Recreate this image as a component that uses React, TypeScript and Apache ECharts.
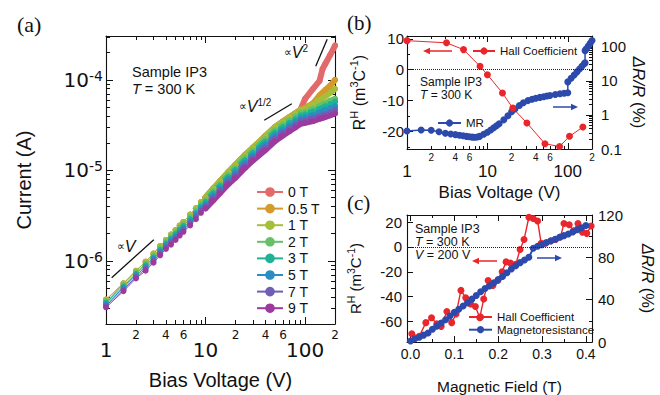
import React, { useEffect, useRef } from "react";
import * as echarts from "echarts";

// ================= Panel (a): current vs bias voltage =================
const biasVoltage = [1, 1.5, 2, 2.5, 3, 3.5, 4, 4.5, 5, 5.5, 6, 7, 8, 9, 10, 12, 14, 17, 20, 25, 30, 40, 50, 60, 70, 80, 90, 100, 120, 140, 150, 160, 180, 200];

const current0T = [3.72e-7, 5.62e-7, 7.76e-7, 9.77e-7, 1.2e-6, 1.45e-6, 1.7e-6, 1.95e-6, 2.19e-6, 2.45e-6, 2.69e-6, 3.24e-6, 3.8e-6, 4.47e-6, 5.01e-6, 6.31e-6, 7.59e-6, 9.55e-6, 1.15e-5, 1.48e-5, 1.78e-5, 2.4e-5, 3.02e-5, 3.47e-5, 3.89e-5, 4.27e-5, 4.68e-5, 6.17e-5, 7.94e-5, 9.77e-5, 1.32e-4, 1.51e-4, 1.91e-4, 2.4e-4];
const current05T = [3.72e-7, 5.62e-7, 7.76e-7, 9.77e-7, 1.2e-6, 1.45e-6, 1.7e-6, 1.95e-6, 2.19e-6, 2.45e-6, 2.69e-6, 3.24e-6, 3.8e-6, 4.47e-6, 5.01e-6, 6.31e-6, 7.59e-6, 9.55e-6, 1.15e-5, 1.48e-5, 1.78e-5, 2.4e-5, 3.02e-5, 3.47e-5, 3.89e-5, 4.27e-5, 4.68e-5, 4.9e-5, 5.5e-5, 6.76e-5, 7.24e-5, 7.76e-5, 8.71e-5, 1.0e-4];
const current1T = [3.72e-7, 5.62e-7, 7.76e-7, 9.77e-7, 1.2e-6, 1.45e-6, 1.7e-6, 1.95e-6, 2.19e-6, 2.45e-6, 2.69e-6, 3.24e-6, 3.8e-6, 4.47e-6, 5.01e-6, 6.31e-6, 7.59e-6, 9.55e-6, 1.15e-5, 1.48e-5, 1.78e-5, 2.4e-5, 3.02e-5, 3.47e-5, 3.89e-5, 4.27e-5, 4.68e-5, 4.79e-5, 5.37e-5, 6.03e-5, 6.31e-5, 6.61e-5, 7.24e-5, 7.94e-5];
const current2T = [3.56e-7, 5.38e-7, 7.43e-7, 9.29e-7, 1.14e-6, 1.38e-6, 1.62e-6, 1.84e-6, 2.07e-6, 2.32e-6, 2.54e-6, 3.05e-6, 3.58e-6, 4.21e-6, 4.72e-6, 5.9e-6, 7.1e-6, 8.93e-6, 1.07e-5, 1.38e-5, 1.66e-5, 2.22e-5, 2.79e-5, 3.21e-5, 3.6e-5, 3.95e-5, 4.33e-5, 4.45e-5, 4.79e-5, 5.13e-5, 5.37e-5, 5.5e-5, 5.89e-5, 6.17e-5];
const current3T = [3.44e-7, 5.2e-7, 7.18e-7, 8.91e-7, 1.09e-6, 1.32e-6, 1.55e-6, 1.76e-6, 1.98e-6, 2.21e-6, 2.43e-6, 2.9e-6, 3.4e-6, 4.0e-6, 4.48e-6, 5.6e-6, 6.73e-6, 8.47e-6, 1.01e-5, 1.3e-5, 1.56e-5, 2.08e-5, 2.62e-5, 3.01e-5, 3.37e-5, 3.7e-5, 4.06e-5, 4.17e-5, 4.5e-5, 4.79e-5, 4.95e-5, 5.13e-5, 5.43e-5, 5.75e-5];
const current5T = [3.31e-7, 5.01e-7, 6.91e-7, 8.51e-7, 1.05e-6, 1.26e-6, 1.48e-6, 1.68e-6, 1.88e-6, 2.1e-6, 2.31e-6, 2.74e-6, 3.22e-6, 3.79e-6, 4.24e-6, 5.28e-6, 6.35e-6, 7.98e-6, 9.48e-6, 1.22e-5, 1.47e-5, 1.94e-5, 2.44e-5, 2.8e-5, 3.14e-5, 3.45e-5, 3.78e-5, 3.88e-5, 4.1e-5, 4.37e-5, 4.52e-5, 4.68e-5, 4.9e-5, 5.13e-5];
const current7T = [3.18e-7, 4.81e-7, 6.63e-7, 8.13e-7, 9.98e-7, 1.21e-6, 1.41e-6, 1.59e-6, 1.79e-6, 2.0e-6, 2.2e-6, 2.6e-6, 3.05e-6, 3.58e-6, 4.02e-6, 4.97e-6, 5.97e-6, 7.52e-6, 8.89e-6, 1.14e-5, 1.38e-5, 1.8e-5, 2.27e-5, 2.61e-5, 2.93e-5, 3.21e-5, 3.52e-5, 3.6e-5, 3.8e-5, 3.98e-5, 4.07e-5, 4.17e-5, 4.42e-5, 4.68e-5];
const current9T = [3.06e-7, 4.62e-7, 6.38e-7, 7.76e-7, 9.53e-7, 1.15e-6, 1.35e-6, 1.51e-6, 1.7e-6, 1.9e-6, 2.09e-6, 2.46e-6, 2.88e-6, 3.39e-6, 3.8e-6, 4.68e-6, 5.62e-6, 7.08e-6, 8.33e-6, 1.07e-5, 1.29e-5, 1.68e-5, 2.11e-5, 2.43e-5, 2.72e-5, 2.99e-5, 3.28e-5, 3.36e-5, 3.51e-5, 3.72e-5, 3.8e-5, 3.89e-5, 4.07e-5, 4.27e-5];

const fieldLabels = ["0 T", "0.5 T", "1 T", "2 T", "3 T", "5 T", "7 T", "9 T"];
const currentByField = [current0T, current05T, current1T, current2T, current3T, current5T, current7T, current9T];

// guide lines (data coordinates)
const guideLinear = [[1.14, 6.5e-7], [3.02, 1.71e-6]];
const guideSqrt = [[38.9, 3.58e-5], [73.6, 5.45e-5]];
const guideSquare = [[128, 1.42e-4], [167, 2.82e-4]];

// ================= Panel (b): Hall coefficient & MR vs bias =================
const hallBiasVoltage = [1, 3.1, 5.05, 8.1, 10, 15.4, 20.7, 31, 52, 79, 105, 154];
const hallCoeffVsBias = [9.4, 8.7, 6.5, 1.1, -1.6, -7.5, -12.4, -17.2, -23.9, -24.8, -21.5, -18.5];
const mrBiasVoltage = [1, 1.5, 2, 2.5, 3, 3.5, 4, 4.5, 5, 5.5, 6, 6.5, 7, 7.5, 8, 9, 10, 11, 12, 13, 14, 16, 18, 20, 22, 25, 28, 32, 36, 40, 45, 50, 55, 60, 70, 80, 90, 100, 100, 110, 120, 130, 140, 150, 160, 164, 164, 170, 180, 190, 200];
const mrVsBias = [0.34, 0.36, 0.355, 0.32, 0.29, 0.275, 0.265, 0.255, 0.245, 0.235, 0.228, 0.223, 0.222, 0.226, 0.235, 0.27, 0.31, 0.36, 0.42, 0.48, 0.55, 0.72, 0.95, 1.25, 1.5, 1.9, 2.3, 2.65, 2.9, 3.1, 3.3, 3.45, 3.6, 3.75, 4.0, 4.2, 4.35, 4.5, 9.4, 12, 15, 18.5, 22.5, 27, 32, 34, 78, 88, 106, 128, 155];

// ================= Panel (c): Hall coefficient & MR vs field =================
const hallField = [0.003, 0.02, 0.035, 0.048, 0.06, 0.07, 0.083, 0.094, 0.104, 0.115, 0.126, 0.137, 0.148, 0.158, 0.167, 0.177, 0.188, 0.199, 0.209, 0.218, 0.228, 0.24, 0.25, 0.259, 0.27, 0.28, 0.29, 0.298, 0.308, 0.32, 0.331, 0.342, 0.35, 0.362, 0.372, 0.382, 0.392, 0.402, 0.412];
const hallCoeffVsField = [-70, -72, -61, -57, -62, -64, -52, -61, -54, -35, -41, -46, -48, -57, -42, -27, -31, -27, -20, -12, -13, -14, -2, 6, 24, 23, 21, 3, 3, 5, 6, 8, 19, 18, 13, 19, 12, 11, 17];
const mrField = [0, 0.01, 0.02, 0.03, 0.04, 0.05, 0.06, 0.07, 0.08, 0.09, 0.1, 0.11, 0.12, 0.13, 0.14, 0.15, 0.16, 0.17, 0.18, 0.19, 0.2, 0.21, 0.22, 0.23, 0.24, 0.25, 0.26, 0.27, 0.28, 0.29, 0.3, 0.31, 0.32, 0.33, 0.34, 0.35, 0.36, 0.37, 0.38, 0.39, 0.4];
const mrVsField = [1, 3, 4.5, 6.5, 8.5, 12, 15, 18, 21, 24.5, 28, 31, 34, 37, 40.5, 44, 47.5, 50.5, 53, 56, 59, 62, 65.5, 69, 72, 75, 77.5, 80, 88.5, 90.5, 92, 94, 95.5, 97, 99, 100.5, 102, 104, 106, 108, 110];

// ================= tick values =================
const logMajor = [1, 10, 100];
const logMinor = [2, 3, 4, 5, 6, 7, 8, 9, 20, 30, 40, 50, 60, 70, 80, 90, 200];
const logMinorLabels = [2, 4, 6, 20, 40, 60, 200];
const currentMajor = [1e-6, 1e-5, 1e-4];
const currentMinor = [3e-7, 4e-7, 5e-7, 6e-7, 7e-7, 8e-7, 9e-7, 2e-6, 3e-6, 4e-6, 5e-6, 6e-6, 7e-6, 8e-6, 9e-6, 2e-5, 3e-5, 4e-5, 5e-5, 6e-5, 7e-5, 8e-5, 9e-5, 2e-4, 3e-4];
const hallBMajor = [-20, -10, 0, 10];
const hallBMinor = [-25, -15, -5, 5];
const mrBMajor = [0.1, 1, 10, 100];
const mrBMinor = [0.2, 0.3, 0.4, 0.5, 0.6, 0.7, 0.8, 0.9, 2, 3, 4, 5, 6, 7, 8, 9, 20, 30, 40, 50, 60, 70, 80, 90, 200];
const fieldMajor = [0, 0.1, 0.2, 0.3, 0.4];
const fieldMinor = [0.05, 0.15, 0.25, 0.35];
const hallCMajor = [-60, -40, -20, 0, 20];
const mrCMajor = [0, 40, 80, 120];
const mrCMinor = [20, 60, 100];

// ================= styling =================
const FONT = "'Liberation Sans', Arial, Helvetica, sans-serif";
const NARROW = "'Liberation Sans Narrow', 'Arial Narrow', 'Liberation Sans', sans-serif";
const NUM = "'DejaVu Sans', 'Liberation Sans', sans-serif";
const SERIF = "'Liberation Serif', 'Times New Roman', serif";
const INK = "#111";
const RED = "#e8262b";
const BLUE = "#2c4aac";
const FIELD_COLORS = ["#e36a6a", "#d49a2a", "#a5bf3a", "#66c068", "#1db394", "#2a8ec2", "#6f5db6", "#9c3a9e"];

const zip = (xs: number[], ys: number[]) => xs.map((x, i) => [x, ys[i]]);

function ax(o: any) {
  const a: any = {
    gridIndex: o.grid,
    type: o.type,
    min: o.min,
    max: o.max,
    position: o.position,
    axisLine: { show: !!o.line, onZero: false, lineStyle: { color: INK, width: 1.1 } },
    splitLine: { show: false },
    axisTick: { show: true, inside: true, length: o.tickLen, customValues: o.ticks, lineStyle: { color: INK, width: 1 } },
    axisLabel: o.labels
      ? { show: true, customValues: o.labels, color: INK, fontFamily: FONT, ...o.label }
      : { show: false },
    silent: true,
  };
  if (o.type === "log") a.logBase = 10;
  if (o.name) {
    a.name = o.name;
    a.nameLocation = "middle";
    a.nameGap = o.nameGap;
    a.nameTextStyle = { color: INK, fontFamily: FONT, ...o.nameStyle };
    if (o.nameRotate !== undefined) a.nameRotate = o.nameRotate;
  }
  return a;
}

function arrow(x1: number, x2: number, y: number, color: string) {
  const dir = x2 > x1 ? 1 : -1;
  const hx = x2;
  return [
    { type: "line", shape: { x1, y1: y, x2: x2 - dir * 5, y2: y }, style: { stroke: color, lineWidth: 1.5 } },
    { type: "polygon", shape: { points: [[hx, y], [hx - dir * 7, y - 3.2], [hx - dir * 7, y + 3.2]] }, style: { fill: color } },
  ];
}

function text(x: number, y: number, t: string, size: number, family: string, rich?: any) {
  return {
    type: "text",
    x,
    y,
    style: { text: t, fill: INK, fontSize: size, fontFamily: family, align: "left", verticalAlign: "middle", rich },
  };
}

function buildOption() {
  const xAxis = [
    // (a)
    ax({ grid: 0, type: "log", min: 1, max: 200, position: "bottom", line: true, tickLen: 7, ticks: logMajor, labels: logMajor,
      label: { fontSize: 20, fontFamily: NUM, margin: 16, formatter: (v: number) => String(Math.round(v)) },
      name: "Bias Voltage (V)", nameGap: 46, nameStyle: { fontSize: 20 } }),
    ax({ grid: 0, type: "log", min: 1, max: 200, position: "bottom", tickLen: 4, ticks: logMinor, labels: logMinorLabels,
      label: { fontSize: 12, fontFamily: NUM, margin: 5, formatter: (v: number) => String(Math.round(v)).charAt(0) } }),
    ax({ grid: 0, type: "log", min: 1, max: 200, position: "top", line: true, tickLen: 7, ticks: logMajor }),
    ax({ grid: 0, type: "log", min: 1, max: 200, position: "top", tickLen: 4, ticks: logMinor }),
    // (b)
    ax({ grid: 1, type: "log", min: 1, max: 200, position: "bottom", line: true, tickLen: 6, ticks: logMajor, labels: logMajor,
      label: { fontSize: 17, margin: 14, formatter: (v: number) => String(Math.round(v)) },
      name: "Bias Voltage (V)", nameGap: 35, nameStyle: { fontSize: 17 } }),
    ax({ grid: 1, type: "log", min: 1, max: 200, position: "bottom", tickLen: 3, ticks: logMinor, labels: logMinorLabels,
      label: { fontSize: 10, margin: 3, formatter: (v: number) => String(Math.round(v)).charAt(0) } }),
    ax({ grid: 1, type: "log", min: 1, max: 200, position: "top", line: true, tickLen: 6, ticks: logMajor }),
    ax({ grid: 1, type: "log", min: 1, max: 200, position: "top", tickLen: 3, ticks: logMinor }),
    // (c)
    ax({ grid: 2, type: "value", min: -0.008, max: 0.414, position: "bottom", line: true, tickLen: 6, ticks: fieldMajor, labels: fieldMajor,
      label: { fontSize: 14, margin: 5, formatter: (v: number) => v.toFixed(1) },
      name: "Magnetic Field (T)", nameGap: 36, nameStyle: { fontSize: 15.5 } }),
    ax({ grid: 2, type: "value", min: -0.008, max: 0.414, position: "bottom", tickLen: 3, ticks: fieldMinor }),
    ax({ grid: 2, type: "value", min: -0.008, max: 0.414, position: "top", line: true, tickLen: 6, ticks: fieldMajor }),
    ax({ grid: 2, type: "value", min: -0.008, max: 0.414, position: "top", tickLen: 3, ticks: fieldMinor }),
  ];

  const rhName = "{n|R}{s|H}{n| (m}{s|3}{n|C}{s|-1}{n|)}";
  const yAxis = [
    // (a) 0-3
    ax({ grid: 0, type: "log", min: 2.0e-7, max: 3.06e-4, position: "left", line: true, tickLen: 7, ticks: currentMajor, labels: currentMajor,
      label: {
        margin: 3,
        formatter: (v: number) => `{b|10}{s|${Math.round(Math.log10(v))}}`,
        rich: {
          b: { fontSize: 20, fontFamily: NUM, color: INK, lineHeight: 22 },
          s: { fontSize: 14, fontFamily: NUM, color: INK, lineHeight: 14, verticalAlign: "top" },
        },
      },
      name: "Current (A)", nameGap: 72, nameStyle: { fontSize: 20 } }),
    ax({ grid: 0, type: "log", min: 2.0e-7, max: 3.06e-4, position: "left", tickLen: 4, ticks: currentMinor }),
    ax({ grid: 0, type: "log", min: 2.0e-7, max: 3.06e-4, position: "right", line: true, tickLen: 7, ticks: currentMajor }),
    ax({ grid: 0, type: "log", min: 2.0e-7, max: 3.06e-4, position: "right", tickLen: 4, ticks: currentMinor }),
    // (b) 4-7
    ax({ grid: 1, type: "value", min: -25.6, max: 10.9, position: "left", line: true, tickLen: 6, ticks: hallBMajor, labels: hallBMajor,
      label: { fontSize: 15, margin: 3 },
      name: rhName, nameGap: 37,
      nameStyle: {
        fontSize: 16,
        rich: {
          n: { fontSize: 16, fontFamily: FONT, color: INK, lineHeight: 22 },
          s: { fontSize: 11, fontFamily: FONT, color: INK, lineHeight: 11, verticalAlign: "top" },
        },
      } }),
    ax({ grid: 1, type: "value", min: -25.6, max: 10.9, position: "left", tickLen: 3, ticks: hallBMinor }),
    ax({ grid: 1, type: "log", min: 0.1, max: 210, position: "right", line: true, tickLen: 6, ticks: mrBMajor, labels: mrBMajor,
      label: { fontSize: 15, margin: 9, formatter: (v: number) => (v < 0.5 ? "0.1" : String(Math.round(v))) },
      name: "{i|ΔR/R} {n|(%)}", nameGap: 37, nameRotate: -90,
      nameStyle: {
        fontSize: 17,
        rich: {
          i: { fontSize: 17, fontFamily: FONT, fontStyle: "italic", color: INK },
          n: { fontSize: 17, fontFamily: FONT, color: INK },
        },
      } }),
    ax({ grid: 1, type: "log", min: 0.1, max: 210, position: "right", tickLen: 3, ticks: mrBMinor }),
    // (c) 8-10
    ax({ grid: 2, type: "value", min: -76.6, max: 25.8, position: "left", line: true, tickLen: 6, ticks: hallCMajor, labels: hallCMajor,
      label: { fontSize: 15, margin: 5 },
      name: rhName, nameGap: 41,
      nameStyle: {
        fontSize: 15,
        rich: {
          n: { fontSize: 15, fontFamily: FONT, color: INK, lineHeight: 21 },
          s: { fontSize: 10.5, fontFamily: FONT, color: INK, lineHeight: 10.5, verticalAlign: "top" },
        },
      } }),
    ax({ grid: 2, type: "value", min: 0, max: 120, position: "right", line: true, tickLen: 6, ticks: mrCMajor, labels: mrCMajor,
      label: { fontSize: 15, margin: 6 },
      name: "{i|ΔR/R} {n|(%)}", nameGap: 47, nameRotate: -90,
      nameStyle: {
        fontSize: 16.5,
        rich: {
          i: { fontSize: 16.5, fontFamily: FONT, fontStyle: "italic", color: INK },
          n: { fontSize: 16.5, fontFamily: FONT, color: INK },
        },
      } }),
    ax({ grid: 2, type: "value", min: 0, max: 120, position: "right", tickLen: 3, ticks: mrCMinor }),
  ];

  const series: any[] = [];
  currentByField.forEach((vals, k) => {
    const pts = zip(biasVoltage, vals);
    series.push({
      name: fieldLabels[k],
      type: "line",
      xAxisIndex: 0,
      yAxisIndex: 0,
      data: pts,
      symbol: "circle",
      symbolSize: 6,
      lineStyle: { width: 1, color: FIELD_COLORS[k] },
      itemStyle: { color: FIELD_COLORS[k] },
    });
    series.push({
      name: fieldLabels[k],
      type: "line",
      xAxisIndex: 0,
      yAxisIndex: 0,
      data: pts.slice(14),
      symbol: "none",
      lineStyle: { width: 6, color: FIELD_COLORS[k], cap: "round", join: "round" },
      itemStyle: { color: FIELD_COLORS[k] },
    });
  });
  [guideLinear, guideSqrt, guideSquare].forEach((g) => {
    series.push({
      type: "line",
      xAxisIndex: 0,
      yAxisIndex: 0,
      data: g,
      symbol: "none",
      silent: true,
      lineStyle: { color: INK, width: 1.3 },
    });
  });

  const zeroLine = {
    silent: true,
    symbol: ["none", "none"],
    label: { show: false },
    lineStyle: { type: "dotted", color: "#222", width: 1 },
    data: [{ yAxis: 0 }],
  };

  series.push({
    name: "MR",
    type: "line",
    xAxisIndex: 4,
    yAxisIndex: 6,
    data: zip(mrBiasVoltage, mrVsBias),
    symbol: "circle",
    symbolSize: 7,
    lineStyle: { width: 1.5, color: BLUE },
    itemStyle: { color: BLUE },
  });
  series.push({
    name: "Hall Coefficient",
    type: "line",
    xAxisIndex: 4,
    yAxisIndex: 4,
    data: zip(hallBiasVoltage, hallCoeffVsBias),
    symbol: "circle",
    symbolSize: 7,
    lineStyle: { width: 1, color: RED },
    itemStyle: { color: RED },
    markLine: zeroLine,
  });
  series.push({
    name: "Hall Coefficient",
    type: "line",
    xAxisIndex: 8,
    yAxisIndex: 8,
    data: zip(hallField, hallCoeffVsField),
    symbol: "circle",
    symbolSize: 7,
    lineStyle: { width: 1.4, color: RED },
    itemStyle: { color: RED },
    markLine: zeroLine,
  });
  series.push({
    name: "Magnetoresistance",
    type: "line",
    xAxisIndex: 8,
    yAxisIndex: 9,
    data: zip(mrField, mrVsField),
    symbol: "circle",
    symbolSize: 7,
    lineStyle: { width: 2, color: BLUE },
    itemStyle: { color: BLUE },
  });

  const legendText = (size: number, lh: number) => ({ fontSize: size, lineHeight: lh, fontFamily: FONT, color: INK });
  const legend = [
    { data: fieldLabels, orient: "vertical", left: 256, top: 185, padding: 0, itemWidth: 26, itemHeight: 12, itemGap: 2.6,
      selectedMode: false, textStyle: legendText(14, 14) },
    { data: ["Hall Coefficient"], orient: "vertical", left: 472, top: 44, padding: 0, itemWidth: 22, itemHeight: 9,
      selectedMode: false, textStyle: legendText(11.5, 14) },
    { data: ["MR"], orient: "vertical", left: 437, top: 116, padding: 0, itemWidth: 23, itemHeight: 9,
      selectedMode: false, textStyle: legendText(11.5, 14) },
    { data: ["Hall Coefficient", "Magnetoresistance"], orient: "vertical", left: 468, top: 311, padding: 0, itemWidth: 23, itemHeight: 9,
      itemGap: 0.7, selectedMode: false, textStyle: legendText(11.5, 12) },
  ];

  const italicRich = (size: number, family: string) => ({ i: { fontStyle: "italic", fontSize: size, fontFamily: family, fill: INK } });
  const propRich = {
    p: { fontSize: 11, fontFamily: NUM, fill: INK },
    v: { fontSize: 16, fontFamily: FONT, fontStyle: "italic", fill: INK, lineHeight: 18 },
    s: { fontSize: 10, fontFamily: FONT, fill: INK, lineHeight: 10, verticalAlign: "top" },
  };

  const elements: any[] = [
    text(17, 24, "(a)", 22, SERIF),
    text(347, 23, "(b)", 21, SERIF),
    text(347, 203, "(c)", 21, SERIF),
    text(132, 72, "Sample IP3", 14.5, FONT),
    text(132, 89, "{i|T} = 300 K", 14.5, FONT, italicRich(14.5, FONT)),
    text(420, 82, "Sample IP3", 12, NARROW),
    text(420, 94.5, "{i|T} = 300 K", 12, NARROW, italicRich(12, NARROW)),
    text(415, 228.5, "Sample IP3", 12.5, NARROW),
    text(415, 241.8, "{i|T} = 300 K", 12.5, NARROW, italicRich(12.5, NARROW)),
    text(415, 255, "{i|V} = 200 V", 12.5, NARROW, italicRich(12.5, NARROW)),
    text(284, 52, "{p|∝}{v|V}{s|2}", 16, FONT, propRich),
    text(239, 106, "{p|∝}{v|V}{s|1/2}", 16, FONT, propRich),
    text(117, 246, "{p|∝}{v|V}", 16, FONT, propRich),
    ...arrow(452, 423, 51, RED),
    ...arrow(553, 578, 107, BLUE),
    ...arrow(497, 472, 261, RED),
    ...arrow(537, 562, 258, BLUE),
  ];

  return {
    animation: false,
    backgroundColor: "#ffffff",
    textStyle: { fontFamily: FONT },
    grid: [
      { left: 106, top: 36, width: 229, height: 293 },
      { left: 407, top: 36, width: 185, height: 113 },
      { left: 407, top: 215, width: 185, height: 127 },
    ],
    xAxis,
    yAxis,
    legend,
    series,
    graphic: { elements },
  };
}

export default function App() {
  const ref = useRef<HTMLDivElement>(null);
  useEffect(() => {
    const chart = echarts.init(ref.current as HTMLDivElement, null, { renderer: "svg" });
    chart.setOption(buildOption() as any);
    return () => chart.dispose();
  }, []);
  return (
    <div
      ref={ref}
      style={{ position: "fixed", left: 0, top: 0, width: 660, height: 395, background: "#fff" }}
    />
  );
}
